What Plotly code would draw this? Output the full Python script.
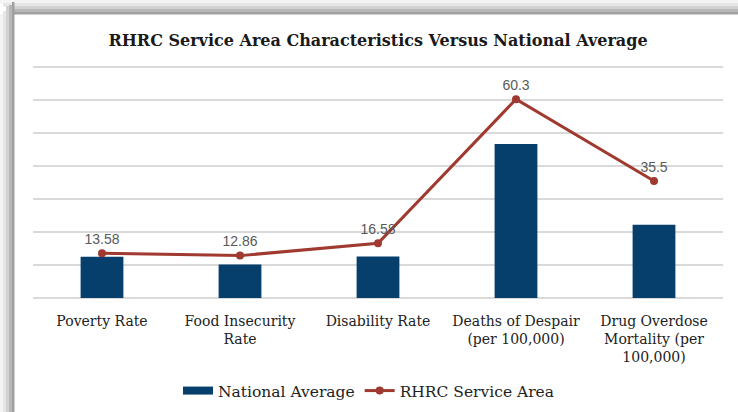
import plotly.graph_objects as go

categories = ["Poverty Rate", "Food Insecurity<br>Rate", "Disability Rate",
              "Deaths of Despair<br>(per 100,000)", "Drug Overdose<br>Mortality (per<br>100,000)"]
national_avg = [12.5, 10.2, 12.6, 46.7, 22.2]
rhrc_area = [13.58, 12.86, 16.58, 60.3, 35.5]
rhrc_labels = ["13.58", "12.86", "16.58", "60.3", "35.5"]

W, H = 738, 412
L, R, T, B = 33, 15, 64, 114
BAR_COLOR = "#063F6B"
LINE_COLOR = "#A0392F"
SERIF = "DejaVu Serif, Liberation Serif"

fig = go.Figure()
fig.add_trace(go.Bar(
    x=categories, y=national_avg, name="National Average",
    marker=dict(color=BAR_COLOR, line=dict(width=0)), width=0.31, showlegend=False,
))
# legend entry drawn as a wide rectangle like the original
fig.add_trace(go.Scatter(
    x=[None], y=[None], name="National Average", mode="lines",
    line=dict(color=BAR_COLOR, width=8), showlegend=True,
))
fig.add_trace(go.Scatter(
    x=categories, y=rhrc_area, name="RHRC Service Area",
    mode="lines+markers+text", text=rhrc_labels, textposition="top center",
    textfont=dict(family="Liberation Sans, Arial", size=14, color="#595959"),
    line=dict(color=LINE_COLOR, width=3), marker=dict(color=LINE_COLOR, size=8),
))

# drop-shadow frame decoration (pixel offsets from the plot's top-left corner)
shapes = []
bands = [(0, 3, "#F4F4F4"), (3, 6, "#E6E6E6"), (6, 9, "#D2D2D2"), (9, 12, "#B8B8B8"), (12, 14, "#A0A0A0")]
for a, b, c in bands:
    shapes.append(dict(type="rect", xref="paper", yref="paper", xsizemode="pixel", ysizemode="pixel",
                       xanchor=0, yanchor=1, x0=-L + a, x1=-L + b + 0.5,
                       y0=T - 14 + a, y1=-H,
                       fillcolor=c, line=dict(width=0), layer="below"))
    shapes.append(dict(type="rect", xref="paper", yref="paper", xsizemode="pixel", ysizemode="pixel",
                       xanchor=0, yanchor=1, x0=-L + a, x1=W,
                       y0=T - a, y1=T - b - 0.5,
                       fillcolor=c, line=dict(width=0), layer="below"))

fig.update_layout(
    width=W, height=H, margin=dict(l=L, r=R, t=T, b=B, autoexpand=False),
    paper_bgcolor="white", plot_bgcolor="white",
    title=dict(text="<b>RHRC Service Area Characteristics Versus National Average</b>",
               x=0.5, xanchor="center", xref="paper", y=1 - 40 / H, yanchor="middle",
               font=dict(family=SERIF, size=16, color="#1a1a1a")),
    xaxis=dict(showgrid=False, showline=False, ticks="", ticklabelstandoff=13, automargin=False,
               tickfont=dict(family=SERIF, size=14, color="#222222")),
    yaxis=dict(range=[0, 71], dtick=10, showticklabels=False, gridcolor="#D9D9D9", gridwidth=1.5,
               zeroline=True, zerolinecolor="#D9D9D9", zerolinewidth=1.5, ticks="", automargin=False),
    legend=dict(orientation="h", x=0.5, xanchor="center", xref="container",
                y=1 - 391 / H, yanchor="middle", yref="container",
                font=dict(family=SERIF, size=15.5, color="#222222"),
                traceorder="normal"),
    showlegend=True,
    shapes=shapes,
)

fig.write_html("out.html")
